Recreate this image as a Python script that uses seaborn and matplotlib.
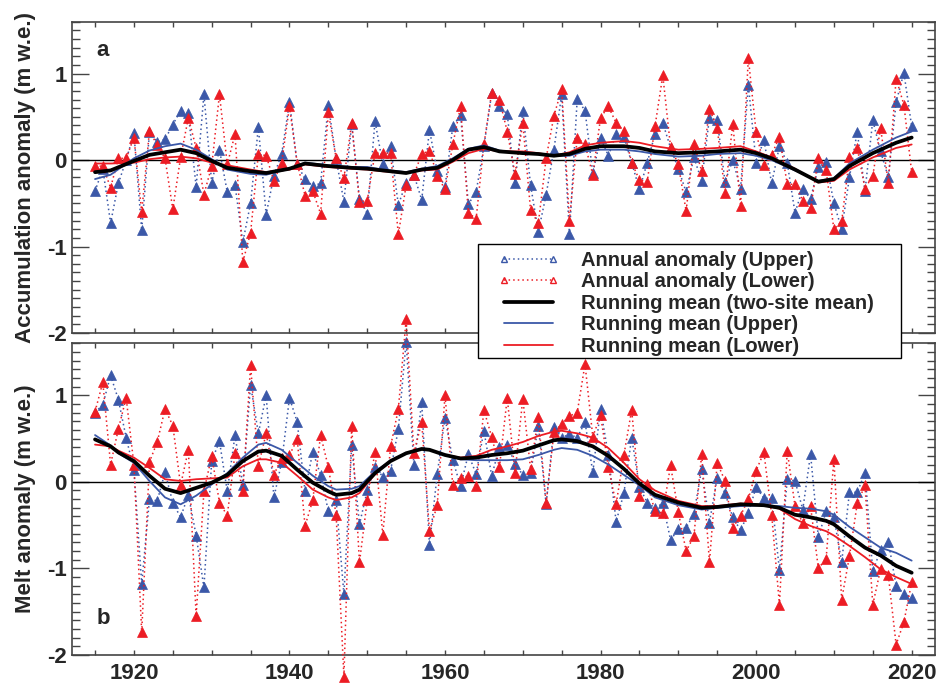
import numpy as np
import pandas as pd
import matplotlib
matplotlib.use("Agg")
import matplotlib.pyplot as plt
from matplotlib.lines import Line2D
from matplotlib.patches import Rectangle
from matplotlib.ticker import MultipleLocator, FormatStrFormatter
import seaborn as sns

# ---------------- data ----------------
years = list(range(1915, 2021))

acc_upper = [-0.36, -0.10, -0.73, -0.27, 0.00,
             0.31, -0.81, 0.32, 0.21, 0.24, 0.41, 0.57, 0.54, -0.31, 0.76,
             -0.26, 0.12, -0.37, -0.29, -0.95, -0.50, 0.38, -0.63, -0.18, 0.07,
             0.67, -0.05, -0.22, -0.30, -0.27, 0.64, 0.01, -0.48, 0.42, -0.45,
             -0.62, 0.45, -0.05, 0.16, -0.52, -0.26, -0.17, -0.46, 0.35, -0.13,
             -0.31, 0.39, 0.52, -0.51, -0.37, 0.16, 0.77, 0.62, 0.53, -0.26,
             0.57, -0.29, -0.83, -0.40, 0.12, 0.76, -0.86, 0.71, 0.57, -0.15,
             0.26, 0.05, 0.30, 0.27, -0.03, -0.34, -0.03, 0.30, 0.43, 0.14,
             -0.10, -0.37, 0.03, -0.24, 0.49, 0.46, -0.25, 0.00, -0.33, 0.87,
             -0.03, 0.23, -0.27, 0.16, -0.03, -0.61, -0.33, -0.45, -0.08, -0.02,
             -0.50, -0.80, -0.20, 0.33, -0.36, 0.46, 0.10, -0.20, 0.67, 1.01, 0.39]

acc_lower = [-0.07, -0.07, -0.32, 0.02, 0.02,
             0.26, -0.60, 0.34, 0.17, 0.02, -0.57, 0.03, 0.49, 0.14, -0.40,
             -0.07, 0.76, -0.05, 0.30, -1.18, -0.84, 0.07, 0.05, -0.24, -0.03,
             0.62, -0.04, -0.41, -0.36, -0.62, 0.55, 0.02, -0.21, 0.43, -0.48,
             -0.47, 0.08, 0.08, 0.08, -0.86, -0.29, -0.17, 0.07, 0.11, -0.18,
             -0.34, 0.18, 0.62, -0.61, -0.68, 0.18, 0.78, 0.70, 0.33, -0.16,
             0.43, -0.58, -0.73, 0.02, 0.51, 0.82, -0.70, 0.26, 0.18, -0.17,
             0.49, 0.62, 0.43, 0.34, -0.03, -0.23, -0.25, 0.39, 0.98, 0.15,
             -0.05, -0.59, 0.19, -0.13, 0.59, 0.37, -0.38, 0.42, -0.53, 1.18,
             0.32, -0.06, 0.06, 0.27, -0.28, -0.28, -0.47, -0.56, 0.02, -0.12,
             -0.80, -0.71, 0.03, 0.14, -0.33, -0.18, 0.37, -0.26, 0.94, 0.64, -0.14]

melt_upper = [0.80, 0.89, 1.23, 0.95, 0.51,
              0.14, -1.18, -0.20, -0.22, 0.11, -0.24, -0.41, -0.15, -0.62, -1.22,
              0.24, 0.47, -0.11, 0.54, -0.04, 1.12, 0.56, 1.00, -0.18, 0.23,
              0.97, 0.69, -0.11, 0.35, 0.08, -0.34, -0.21, -1.30, 0.42, -0.49,
              -0.10, 0.17, 0.06, 0.13, 0.61, 1.62, 0.19, 0.92, -0.73, 0.09,
              0.74, 0.25, -0.05, 0.32, 0.09, 0.59, 0.07, 0.40, 0.43, 0.21,
              0.08, 0.10, 0.65, -0.26, 0.63, 0.51, 0.55, 0.51, 0.69, 0.11,
              0.84, 0.31, -0.46, -0.13, 0.51, -0.06, -0.24, -0.30, -0.25, -0.67,
              -0.55, -0.53, -0.37, 0.15, -0.47, 0.05, -0.13, -0.41, -0.56, -0.36,
              -0.06, -0.19, -0.19, -1.02, 0.03, 0.01, -0.32, 0.32, -0.64, -0.34,
              -0.41, -0.93, -0.12, -0.12, 0.10, -1.03, -0.79, -0.69, -1.20, -1.29, -1.34]

melt_lower = [0.81, 1.15, 0.20, 0.61, 0.97,
              0.20, -1.74, 0.23, 0.46, 0.84, 0.65, -0.04, 0.37, -1.55, -0.11,
              0.30, -0.24, -0.39, 0.33, -0.11, 1.35, 0.18, 0.56, 0.08, 0.28,
              0.31, 0.49, -0.51, -0.21, 0.54, 0.17, -0.38, -2.25, 0.65, -0.93,
              -0.21, 0.35, -0.61, 0.41, 0.84, 1.88, 0.33, 0.69, -0.57, -0.27,
              1.00, -0.04, 0.04, 0.07, -0.05, 0.83, 0.52, 0.17, 0.97, 0.10,
              0.96, 0.15, 0.75, -0.25, 0.57, 0.67, 0.76, 0.80, 1.36, 0.52,
              0.77, 0.17, -0.26, 0.31, 0.83, -0.16, -0.02, -0.34, -0.36, 0.19,
              -0.35, -0.80, -0.63, 0.32, -0.93, 0.22, 0.01, -0.53, -0.39, -0.20,
              0.13, 0.34, -0.38, -1.42, 0.36, -0.28, -0.48, -0.28, -1.00, -0.89,
              0.26, -1.36, -0.86, -0.25, -0.04, -1.42, -1.01, -1.08, -1.88, -1.62, -1.16]

# running means
acc_run_years = [1915, 1917, 1920, 1922, 1924, 1926, 1928, 1930, 1932, 1935, 1937, 1940,
                 1942, 1945, 1948, 1950, 1952, 1955, 1957, 1959, 1961, 1963, 1965, 1967,
                 1970, 1972, 1974, 1976, 1978, 1980, 1983, 1985, 1987, 1990, 1993, 1995,
                 1998, 2000, 2002, 2005, 2008, 2010, 2012, 2015, 2018, 2020]
acc_run_mean = [-0.14, -0.12, -0.01, 0.06, 0.09, 0.12, 0.08, -0.01, -0.09, -0.13, -0.15, -0.10,
                -0.04, -0.07, -0.09, -0.10, -0.12, -0.15, -0.11, -0.09, 0.00, 0.12, 0.15, 0.10,
                0.08, 0.07, 0.05, 0.07, 0.13, 0.16, 0.16, 0.14, 0.10, 0.08, 0.09, 0.10,
                0.12, 0.08, 0.02, -0.11, -0.25, -0.22, -0.07, 0.08, 0.20, 0.26]
acc_run_upper = [-0.22, -0.17, 0.02, 0.11, 0.16, 0.19, 0.12, 0.01, -0.11, -0.16, -0.17, -0.10,
                 -0.03, -0.06, -0.08, -0.08, -0.11, -0.14, -0.10, -0.07, 0.02, 0.13, 0.17, 0.11,
                 0.08, 0.07, 0.05, 0.05, 0.10, 0.12, 0.12, 0.10, 0.07, 0.04, 0.05, 0.07,
                 0.08, 0.05, 0.00, -0.12, -0.24, -0.21, -0.04, 0.12, 0.26, 0.33]
acc_run_lower = [-0.04, -0.04, -0.03, 0.01, 0.03, 0.04, 0.02, -0.03, -0.06, -0.11, -0.14, -0.11,
                 -0.05, -0.08, -0.10, -0.11, -0.13, -0.15, -0.12, -0.11, -0.02, 0.08, 0.13, 0.10,
                 0.10, 0.08, 0.05, 0.09, 0.17, 0.20, 0.22, 0.20, 0.16, 0.12, 0.13, 0.14,
                 0.16, 0.10, 0.03, -0.10, -0.26, -0.24, -0.11, 0.03, 0.14, 0.18]

melt_run_years = [1915, 1917, 1918, 1920, 1922, 1924, 1926, 1928, 1930, 1932, 1934, 1936,
                  1937, 1939, 1941, 1943, 1945, 1946, 1948, 1949, 1951, 1953, 1955, 1957,
                  1958, 1960, 1962, 1964, 1966, 1968, 1970, 1972, 1974, 1975, 1977, 1979,
                  1981, 1983, 1985, 1987, 1990, 1993, 1995, 1998, 2001, 2003, 2005, 2007,
                  2009, 2010, 2012, 2014, 2016, 2018, 2020]
melt_run_mean = [0.49, 0.41, 0.34, 0.24, 0.07, -0.08, -0.13, -0.07, -0.01, 0.08, 0.24, 0.35,
                 0.36, 0.30, 0.14, -0.01, -0.11, -0.15, -0.13, -0.09, 0.10, 0.24, 0.33, 0.38,
                 0.37, 0.31, 0.27, 0.28, 0.31, 0.33, 0.36, 0.42, 0.48, 0.49, 0.47, 0.41,
                 0.30, 0.15, -0.02, -0.15, -0.24, -0.30, -0.29, -0.26, -0.27, -0.30, -0.38, -0.41,
                 -0.45, -0.49, -0.63, -0.76, -0.85, -0.97, -1.05]
melt_run_upper = [0.54, 0.42, 0.33, 0.22, 0.01, -0.18, -0.26, -0.16, -0.03, 0.10, 0.28, 0.43,
                  0.45, 0.37, 0.22, 0.07, -0.05, -0.09, -0.08, -0.05, 0.12, 0.24, 0.33, 0.38,
                  0.37, 0.31, 0.26, 0.25, 0.25, 0.25, 0.26, 0.31, 0.37, 0.39, 0.37, 0.30,
                  0.20, 0.08, -0.04, -0.18, -0.27, -0.32, -0.30, -0.28, -0.27, -0.28, -0.30, -0.31,
                  -0.34, -0.38, -0.52, -0.64, -0.76, -0.82, -0.91]
melt_run_lower = [0.43, 0.41, 0.36, 0.28, 0.16, 0.03, 0.01, 0.03, 0.04, 0.05, 0.18, 0.26,
                  0.26, 0.22, 0.07, -0.09, -0.18, -0.21, -0.18, -0.13, 0.09, 0.24, 0.33, 0.38,
                  0.37, 0.31, 0.28, 0.30, 0.37, 0.41, 0.46, 0.53, 0.58, 0.59, 0.56, 0.51,
                  0.39, 0.22, 0.03, -0.10, -0.22, -0.28, -0.28, -0.25, -0.27, -0.31, -0.43, -0.51,
                  -0.57, -0.62, -0.74, -0.87, -1.01, -1.10, -1.18]

legend_labels = ["Annual anomaly (Upper)", "Annual anomaly (Lower)",
                 "Running mean (two-site mean)", "Running mean (Upper)",
                 "Running mean (Lower)"]

# ---------------- style ----------------
sns.set_style("ticks")
plt.rcParams["font.family"] = ["Liberation Sans", "DejaVu Sans"]
plt.rcParams["font.weight"] = "bold"
plt.rcParams["axes.unicode_minus"] = False

BLUE = "#3b58a8"
RED = "#ec1c24"
FRAME = "#444444"

W, H = 937, 686
fig = plt.figure(figsize=(W / 100, H / 100), dpi=100)


def frac(x0, y0, x1, y1):
    return [x0 / W, 1 - y1 / H, (x1 - x0) / W, (y1 - y0) / H]


ax_a = fig.add_axes(frac(71.7, 21.7, 935, 333))
ax_b = fig.add_axes(frac(71.7, 343.3, 935, 655))


def draw_panel(ax, upper, lower, ry, rmean, rup, rlow):
    ann = pd.DataFrame({"year": years, "upper": upper, "lower": lower})
    run = pd.DataFrame({"year": ry, "mean": rmean, "upper": rup, "lower": rlow})
    ax.axhline(0, color="black", lw=1.0, zorder=2)
    for col, c in (("upper", BLUE), ("lower", RED)):
        sns.lineplot(data=ann, x="year", y=col, ax=ax, color=c, lw=1.1,
                     linestyle=(0, (1, 2)), marker="^", markersize=7.5,
                     markeredgecolor=c, markeredgewidth=0.5, errorbar=None,
                     zorder=3, clip_on=False)
    sns.lineplot(data=run, x="year", y="upper", ax=ax, color=BLUE, lw=1.3,
                 errorbar=None, zorder=4)
    sns.lineplot(data=run, x="year", y="lower", ax=ax, color=RED, lw=1.3,
                 errorbar=None, zorder=4)
    sns.lineplot(data=run, x="year", y="mean", ax=ax, color="black", lw=2.7,
                 errorbar=None, zorder=5)

    ax.set_xlim(1912, 2023)
    ax.set_ylim(-2, 1.6)
    ax.xaxis.set_major_locator(MultipleLocator(20))
    ax.xaxis.set_minor_locator(MultipleLocator(5))
    ax.yaxis.set_major_locator(MultipleLocator(1))
    ax.yaxis.set_minor_locator(MultipleLocator(0.1))
    ax.xaxis.set_major_formatter(FormatStrFormatter("%d"))
    ax.yaxis.set_major_formatter(FormatStrFormatter("%d"))
    ax.tick_params(axis="both", which="both", direction="in", top=True,
                   right=True, color=FRAME, width=1.0, labelsize=16)
    ax.tick_params(axis="x", which="both", length=3.6, pad=5.5)
    ax.tick_params(axis="y", which="major", length=12, pad=3.5)
    ax.tick_params(axis="y", which="minor", length=6)
    for s in ax.spines.values():
        s.set_color(FRAME)
        s.set_linewidth(1.2)
    ax.set_xlabel("")


draw_panel(ax_a, acc_upper, acc_lower, acc_run_years, acc_run_mean,
           acc_run_upper, acc_run_lower)
draw_panel(ax_b, melt_upper, melt_lower, melt_run_years, melt_run_mean,
           melt_run_upper, melt_run_lower)

ax_a.tick_params(axis="x", labelbottom=False)
ax_a.set_ylabel("Accumulation anomaly (m w.e.)", fontsize=16, fontweight="bold")
ax_b.set_ylabel("Melt anomaly (m w.e.)", fontsize=16, fontweight="bold")
for ax in (ax_a, ax_b):
    ax.yaxis.set_label_coords((36 - 71.7) / (935 - 71.7), 0.5)

fig.text(103 / W, 1 - 50 / H, "a", ha="center", va="center", fontsize=16,
         fontweight="bold")
fig.text(103 / W, 1 - 618 / H, "b", ha="center", va="center", fontsize=16,
         fontweight="bold")

# legend
handles = [
    Line2D([], [], color=BLUE, lw=1.1, ls=(0, (1, 2)), marker="^", ms=5,
           mfc="none", mec=BLUE, mew=1.0),
    Line2D([], [], color=RED, lw=1.1, ls=(0, (1, 2)), marker="^", ms=5,
           mfc="none", mec=RED, mew=1.0),
    Line2D([], [], color="black", lw=2.7),
    Line2D([], [], color=BLUE, lw=1.3),
    Line2D([], [], color=RED, lw=1.3),
]
box = Rectangle((478 / W, 1 - 358 / H), (901 - 478) / W, (358 - 244) / H,
                transform=fig.transFigure, facecolor="white", edgecolor="black",
                lw=1.0, zorder=8)
fig.add_artist(box)
leg = fig.legend(handles, legend_labels, loc="upper left",
                 bbox_to_anchor=(498 / W, 1 - 251 / H), frameon=False,
                 borderpad=0, borderaxespad=0, handlelength=3.05,
                 handletextpad=1.08, labelspacing=0.12, numpoints=2,
                 prop={"size": 14.5, "weight": "bold"})
leg.set_zorder(9)

fig.savefig("out.png", dpi=100)
